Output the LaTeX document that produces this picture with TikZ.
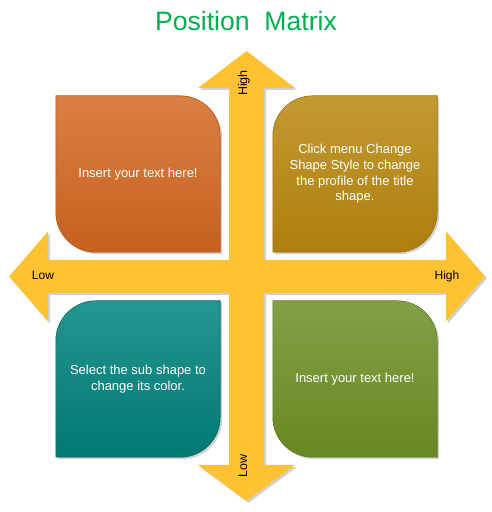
\documentclass[tikz,border=0pt]{standalone}
\usepackage{fontspec}
\setmainfont{Liberation Sans}
\usepackage{tikz}
\usetikzlibrary{
  calc,
  shadows,
  backgrounds
}
\definecolor{pmTitle}{HTML}{00B050}
\definecolor{pmArrow}{HTML}{FFC233}
\definecolor{pmOrangeTop}{HTML}{DA8042}
\definecolor{pmOrange}{HTML}{C6601F}
\definecolor{pmGoldTop}{HTML}{C39A32}
\definecolor{pmGold}{HTML}{AE7E0E}
\definecolor{pmTealTop}{HTML}{25958F}
\definecolor{pmTeal}{HTML}{017872}
\definecolor{pmGreenTop}{HTML}{82A046}
\definecolor{pmGreen}{HTML}{688822}
\tikzset{
  pmtitle/.style={text=pmTitle, font=\fontsize{26.6}{30}\selectfont, inner sep=0pt},
  pmbox/.style={
    rectangle, minimum width=164pt, minimum height=156pt, inner sep=0pt,
    text=white, font=\fontsize{13}{15.6}\selectfont, align=center
  },
  pmshadow/.style={drop shadow={shadow xshift=2pt, shadow yshift=-2pt, opacity=.3, fill=black!60}},
  pmshape/.style={top color=#1Top, bottom color=#1, draw=#1!88!black, line width=.6pt, pmshadow},
  pmaxis/.style={fill=pmArrow, pmshadow},
  axislabel/.style={font=\fontsize{12}{14}\selectfont, text=black, inner sep=0pt, anchor=base},
  vlabel/.style={axislabel, rotate=90, font=\fontsize{12.5}{14}\selectfont}
}

\begin{document}
\begin{tikzpicture}[x=1pt, y=1pt]
  \useasboundingbox (0,0) rectangle (491,512);
  \node[pmtitle] (title) at (246,491) {Position\ \ Matrix};

  % the four quadrants
  \node[pmbox] (tl) at (138,338) {Insert your text here!};
  \node[pmbox] (tr) at (355,338) {Click menu Change\\Shape Style to change\\the profile of the title\\shape.};
  \node[pmbox] (bl) at (138,133) {Select the sub shape to\\change its color.};
  \node[pmbox] (br) at (355,133) {Insert your text here!};

  % axis labels
  \node[axislabel] (xlow) at (43,232) {Low};
  \node[axislabel] (xhigh) at (447,232) {High};
  \node[vlabel] (yhigh) at (247,429) {High};
  \node[vlabel] (ylow) at (247,46) {Low};

  \begin{scope}[on background layer]
    % cross of arrows
    \path[pmaxis] (246.5,461) -- (295,424) -- (264,424) -- (264,252) -- (446,252) -- (446,280.5)
      -- (485,235.5) -- (446,190.5) -- (446,219) -- (264,219) -- (264,47) -- (295,47)
      -- (246.5,11) -- (198,47) -- (229,47) -- (229,219) -- (48,219) -- (48,190.5)
      -- (9,235.5) -- (48,280.5) -- (48,252) -- (229,252) -- (229,424) -- (198,424) -- cycle;

    \path[pmshape=pmOrange] (tl.north west) -- ($(tl.north east)+(-40,0)$)
      arc[start angle=90, end angle=0, radius=40pt] -- (tl.south east)
      -- ($(tl.south west)+(40,0)$) arc[start angle=270, end angle=180, radius=40pt] -- cycle;
    \path[pmshape=pmGold] ($(tr.north west)+(0,-40)$) arc[start angle=180, end angle=90, radius=40pt]
      -- (tr.north east) -- ($(tr.south east)+(0,40)$)
      arc[start angle=0, end angle=-90, radius=40pt] -- (tr.south west) -- cycle;
    \path[pmshape=pmTeal] ($(bl.north west)+(0,-40)$) arc[start angle=180, end angle=90, radius=40pt]
      -- (bl.north east) -- ($(bl.south east)+(0,40)$)
      arc[start angle=0, end angle=-90, radius=40pt] -- (bl.south west) -- cycle;
    \path[pmshape=pmGreen] (br.north west) -- ($(br.north east)+(-40,0)$)
      arc[start angle=90, end angle=0, radius=40pt] -- (br.south east)
      -- ($(br.south west)+(40,0)$) arc[start angle=270, end angle=180, radius=40pt] -- cycle;
  \end{scope}
\end{tikzpicture}
\end{document}
